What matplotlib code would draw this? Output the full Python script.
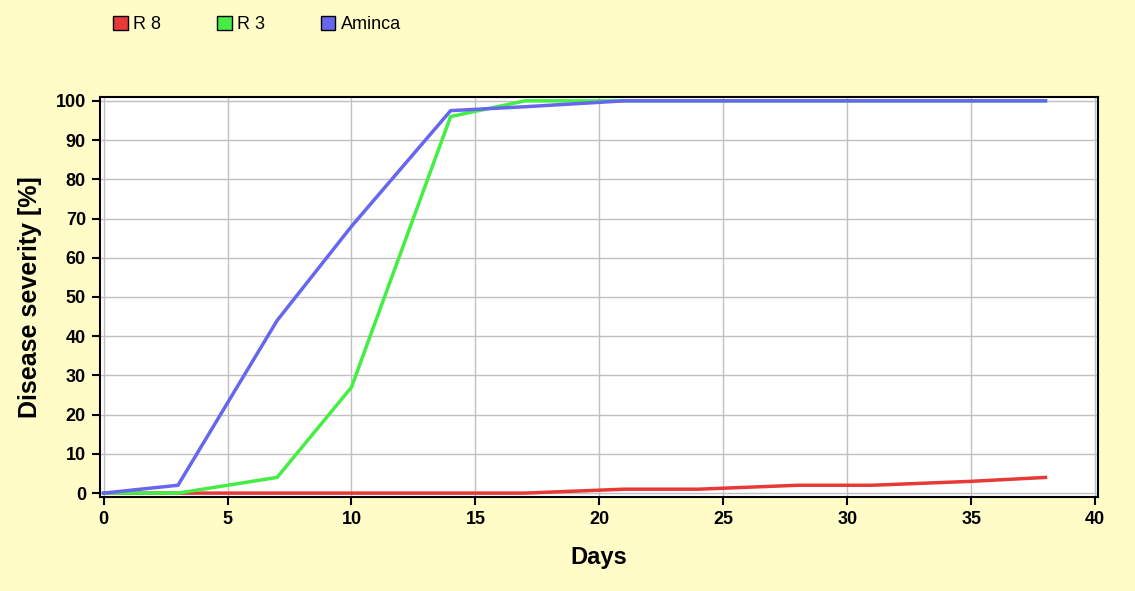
import matplotlib.pyplot as plt
from matplotlib.patches import Patch

plt.rcParams['font.family'] = ['Liberation Sans', 'DejaVu Sans']

# sampling days
days = [0, 3, 7, 10, 14, 17, 21, 24, 28, 31, 35, 38]

r8 = [0, 0, 0, 0, 0, 0, 1, 1, 2, 2, 3, 4]
r3 = [0, 0, 4, 27, 96, 100, 100, 100, 100, 100, 100, 100]
aminca = [0, 2, 44, 68, 97.5, 98.5, 100, 100, 100, 100, 100, 100]

series_names = ["R 8", "R 3", "Aminca"]
colors = ["#e83838", "#44ee44", "#6666ee"]

bg = "#fffcc8"

fig = plt.figure(figsize=(11.35, 5.91), dpi=100, facecolor=bg)
ax = fig.add_axes([0.088, 0.159, 0.879, 0.677])
ax.set_facecolor("white")

for vals, c in zip([r8, r3, aminca], colors):
    ax.plot(days, vals, color=c, lw=2.5, solid_joinstyle="round")

ax.set_xlim(-0.15, 40.1)
ax.set_ylim(-1, 101)
ax.set_xticks(range(0, 41, 5))
ax.set_yticks(range(0, 101, 10))
ax.grid(True, color="#c0c0c0", lw=1)
ax.set_axisbelow(True)

for s in ax.spines.values():
    s.set_linewidth(1.5)
    s.set_color("black")
ax.tick_params(width=1.5, length=6, labelsize=13, pad=4)
for lab in ax.get_xticklabels() + ax.get_yticklabels():
    lab.set_fontweight("bold")

ax.set_xlabel("Days", fontsize=17, fontweight="bold", labelpad=13)
ax.set_ylabel("Disease severity [%]", fontsize=18, fontweight="bold", labelpad=10)

handles = [Patch(facecolor=c, edgecolor="black", lw=1) for c in colors]
fig.legend(handles, series_names, loc="upper left", bbox_to_anchor=(0.0855, 1.0),
           ncol=3, frameon=False, fontsize=13, handlelength=0.8, handleheight=0.8,
           handletextpad=0.3, columnspacing=3.1)

fig.savefig("out.png", dpi=100, facecolor=bg)
